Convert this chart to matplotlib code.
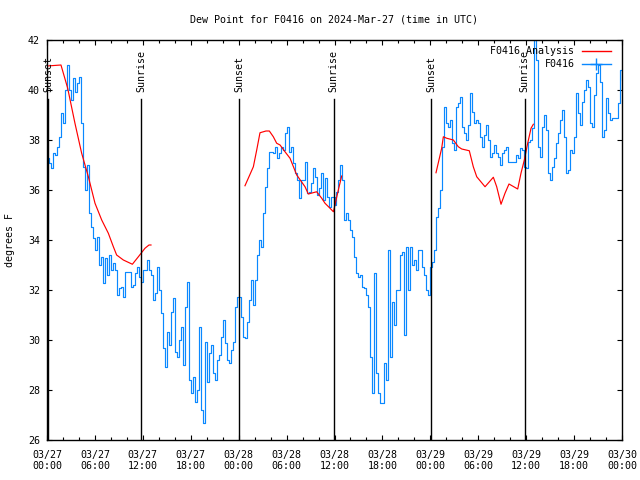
import numpy as np
import matplotlib
matplotlib.use("Agg")
import matplotlib.pyplot as plt
from matplotlib.lines import Line2D

plt.rcParams['font.family'] = ['DejaVu Sans Mono']
FS = 7.2

title = "Dew Point for F0416 on 2024-Mar-27 (time in UTC)"
ylabel = "degrees F"
tick_hours = [0, 6, 12, 18, 24, 30, 36, 42, 48, 54, 60, 66, 72]
tick_labels = ["03/27\n00:00", "03/27\n06:00", "03/27\n12:00", "03/27\n18:00",
               "03/28\n00:00", "03/28\n06:00", "03/28\n12:00", "03/28\n18:00",
               "03/29\n00:00", "03/29\n06:00", "03/29\n12:00", "03/29\n18:00",
               "03/30\n00:00"]
yticks = [26, 28, 30, 32, 34, 36, 38, 40, 42]

# observed dew point (F), every 15 minutes from 03/27 00:00 UTC
obs_step_h = 0.25
obs = [
    37.27, 37.07, 36.87, 37.47, 37.40, 37.73, 38.13, 39.07, 38.67, 40.0,
    41.0, 40.0, 39.6, 40.47, 39.93, 40.27, 40.5, 38.67, 36.93, 36.0,
    37.0, 35.07, 34.53, 34.07, 33.6, 34.13, 33.0, 33.33, 32.27, 33.27,
    32.6, 33.4, 32.8, 33.07, 32.8, 31.8, 32.07, 32.13, 31.73, 32.73,
    32.73, 32.73, 32.13, 32.2, 32.67, 32.93, 32.53, 32.33, 32.8, 32.8,
    33.2, 32.8, 32.6, 31.6, 31.87, 32.93, 32.0, 31.07, 29.67,
    28.93, 30.33, 29.8, 31.13, 31.67, 29.53, 29.33, 30.0, 30.53, 29.0,
    31.33, 32.33, 28.4, 27.87, 28.53, 27.53, 28.0, 30.53, 27.2, 26.67,
    29.93, 28.33, 29.47, 29.8, 28.67, 28.4, 29.2, 29.4, 30.13, 30.8,
    29.87, 29.2, 29.07, 29.6, 29.93, 31.33, 31.73, 31.73, 30.93, 30.13,
    30.07, 30.73, 31.6, 32.4, 31.4, 32.4, 33.4, 34.0, 33.73, 35.07,
    36.13, 36.87, 37.53, 37.53, 37.47, 37.73, 37.27,
    37.47, 37.73, 37.6, 38.27, 38.53, 37.53, 37.73, 37.07, 36.67, 36.4,
    35.67, 36.4, 36.4, 37.13, 35.87, 35.93, 36.27, 36.87, 36.53, 35.8,
    36.07, 36.67, 35.6, 36.47, 35.73, 35.33, 35.73, 35.73, 35.4, 35.93,
    36.4, 37.0, 36.4, 34.8, 35.07, 34.8, 34.4, 34.13, 33.33, 32.67,
    32.53, 32.6, 32.13, 32.07, 31.8, 31.33, 29.33, 27.87, 32.67, 28.67,
    27.87, 27.47, 27.47, 29.07, 28.4, 33.6,
    29.3, 31.5, 30.6, 32.0, 32.0, 33.4, 33.5, 30.2, 33.7, 32.0,
    33.7, 33.0, 33.2, 32.8, 33.6, 33.6, 32.9, 32.6, 32.0, 31.8,
    32.9, 33.13, 33.6, 34.93, 35.27, 36.0, 37.73, 39.33, 38.67, 38.53,
    38.8, 37.87, 37.6, 39.33, 39.47, 39.73, 38.53, 38.27, 38.0, 38.6,
    39.87, 39.13, 38.67, 38.8, 38.67, 38.13, 37.73, 38.2, 38.6, 38.0,
    37.33, 37.47, 37.8, 37.47, 37.33, 37.0, 37.47, 37.6, 37.73,
    37.13, 37.13, 37.13, 37.13, 37.4, 37.27, 37.67, 37.6, 36.93, 36.87,
    37.93, 38.0, 38.47, 42.0, 41.2, 37.73, 37.33, 38.53, 39.0, 38.4,
    36.67, 36.4, 36.93, 37.27, 37.87, 38.27, 38.8, 39.2, 38.13, 36.67,
    36.8, 37.6, 37.47, 38.13, 39.87, 39.07, 38.6, 39.53, 40.0, 40.4,
    40.13, 38.67, 38.53, 39.8, 40.67, 41.0, 40.33, 38.13, 38.4, 39.67,
    39.07, 38.8, 38.87, 38.87, 38.87, 39.47, 40.8, 40.4,
]

# analysis series (three night segments), hours since 03/27 00:00
ana1_t = [0.0, 1.75, 2.59, 3.5, 4.34, 5.18, 6.01, 6.85, 7.68, 8.31, 8.72, 9.56, 10.69, 11.44, 12.27, 12.77, 13.02]
ana1_v = [40.96, 41.0, 40.07, 38.67, 37.47, 36.53, 35.47, 34.8, 34.27, 33.73, 33.4, 33.2, 33.03, 33.33, 33.67, 33.8, 33.8]
ana2_t = [24.79, 25.84, 26.26, 26.67, 27.42, 27.84, 28.34, 28.76, 29.18, 29.8, 30.43, 31.27, 32.31, 32.72, 33.77, 34.4, 34.81, 35.44, 35.86, 36.06, 36.48, 36.9]
ana2_v = [36.17, 36.93, 37.6, 38.29, 38.36, 38.36, 38.13, 37.87, 37.8, 37.53, 37.27, 36.6, 36.13, 35.84, 35.93, 35.67, 35.47, 35.27, 35.13, 35.4, 36.0, 36.56]
ana3_t = [48.71, 49.13, 49.42, 49.63, 50.05, 50.88, 51.5, 51.93, 52.88, 53.38, 53.81, 54.85, 55.89, 56.31, 56.85, 57.35, 57.85, 58.94, 59.35, 59.77, 60.19, 60.61, 60.9]
ana3_v = [36.69, 37.27, 37.67, 38.13, 38.07, 38.0, 37.73, 37.64, 37.57, 36.93, 36.53, 36.13, 36.51, 36.13, 35.43, 35.87, 36.24, 36.04, 36.67, 37.2, 37.87, 38.47, 38.63]

sunset_h = [0.17, 24.08, 48.13]
sunrise_h = [11.81, 35.9, 59.81]

RED = '#ff0000'
BLUE = '#0a88ff'

fig = plt.figure(figsize=(6.4, 4.8), dpi=100)
ax = fig.add_axes([47/640, 40/480, 575/640, 400/480])

obs_t = np.arange(len(obs)) * obs_step_h
ax.step(obs_t, obs, where='post', color=BLUE, lw=0.85)
for t, v in [(ana1_t, ana1_v), (ana2_t, ana2_v), (ana3_t, ana3_v)]:
    ax.plot(t, v, color=RED, lw=0.85)

line_top = 39.62
for name, hrs in [("Sunset", sunset_h), ("Sunrise", sunrise_h)]:
    for h in hrs:
        ax.plot([h, h], [26, line_top], color='black', lw=1.0)
        ax.text(h, 39.92, name, rotation=90, ha='center', va='bottom',
                fontsize=FS, clip_on=False)

ax.set_xlim(0, 72)
ax.set_ylim(26, 42)
ax.set_xticks(tick_hours)
ax.set_xticklabels(tick_labels, fontsize=FS)
ax.set_xticks(np.arange(0, 73, 2), minor=True)
ax.set_yticks(yticks)
ax.set_yticklabels([str(v) for v in yticks], fontsize=FS)
ax.tick_params(which='both', direction='in', top=True, right=True)
ax.tick_params(which='major', length=3.5, width=0.8)
ax.tick_params(which='minor', length=2.0, width=0.8)
ax.tick_params(axis='x', pad=7)
ax.tick_params(axis='y', pad=5)
for s in ax.spines.values():
    s.set_linewidth(1.0)

fig.text(334/640, 1 - 20/480, title, ha='center', va='center', fontsize=FS)
fig.text(10/640, 1 - 240/480, ylabel, ha='center', va='center', rotation=90, fontsize=FS)

handles = [Line2D([], [], color=RED, lw=1.0),
           Line2D([], [], color=BLUE, lw=1.0, marker='+', markersize=9, markeredgewidth=1.0)]
leg = ax.legend(handles, ["F0416 Analysis", "F0416"], loc='upper right',
                bbox_to_anchor=(0.98, 0.984), frameon=False, markerfirst=False,
                numpoints=1, fontsize=FS, handlelength=2.9, handletextpad=0.7,
                labelspacing=0.3, borderpad=0, borderaxespad=0)

fig.savefig("out.png", dpi=100)
